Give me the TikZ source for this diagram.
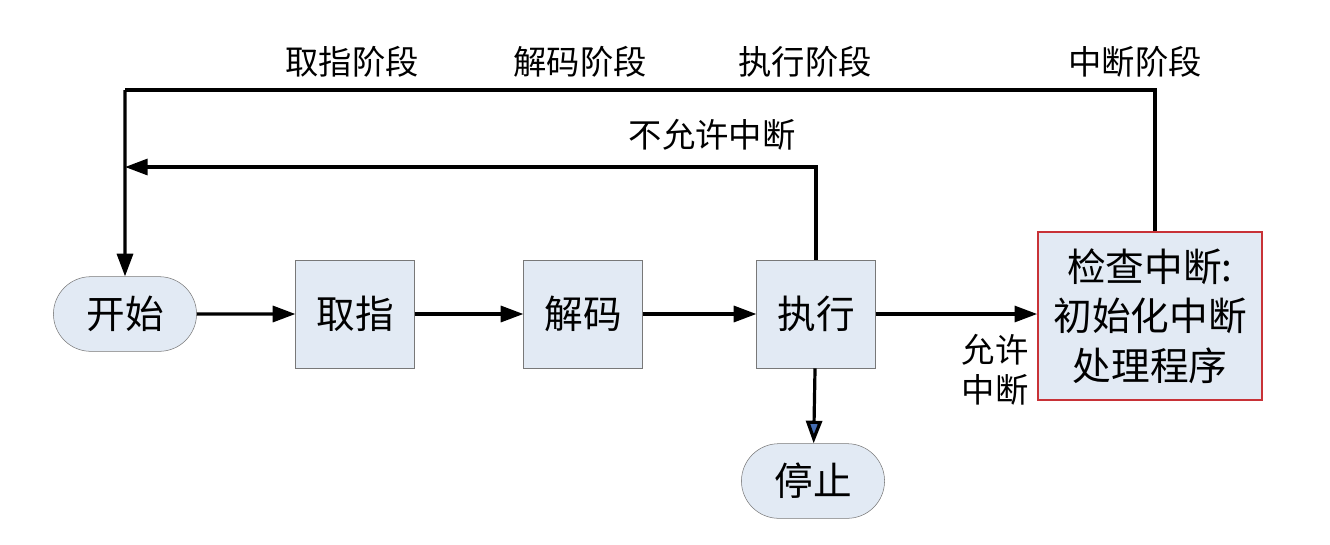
\documentclass[tikz,border=0pt]{standalone}
\usepackage{fontspec}
\setmainfont{Noto Sans CJK SC}
\usetikzlibrary{arrows.meta, shapes.misc}

\definecolor{boxfill}{RGB}{226,234,244}
\definecolor{boxline}{RGB}{120,120,120}
\definecolor{intline}{RGB}{200,50,55}
\definecolor{stoptip}{RGB}{70,110,180}

\begin{document}
\begin{tikzpicture}[x=0.75pt, y=-0.75pt,
stage/.style={draw=boxline, fill=boxfill, minimum width=89pt, minimum height=81pt, font=\fontsize{29}{34}\selectfont},
terminal/.style={rounded rectangle, draw=boxline, fill=boxfill, minimum width=114pt, minimum height=56pt, font=\fontsize{29}{34}\selectfont},
flow/.style={line width=2.4pt, -{Triangle[length=17pt, width=12pt]}},
phase/.style={font=\fontsize{25}{30}\selectfont}]
\useasboundingbox (0,0) rectangle (1330,544);

%Stages
\node[terminal] (start) at (125,314) {开始};
\node[stage] (fetch) at (355,314) {取指};
\node[stage] (decode) at (583,314) {解码};
\node[stage] (exec) at (816,314) {执行};
\node[terminal] (stop) at (813,481) {停止};
%Interrupt
\node[stage, draw=intline, line width=1.2pt, minimum width=168pt, minimum height=126pt, align=center,
  font=\fontsize{29}{37}\selectfont] (intr) at (1150,316) {检查中断:\\初始化中断\\处理程序};

%Corners
\coordinate (topl) at (125,90);
\coordinate (topr) at (1155,90);
\coordinate (midl) at (125,167);
\coordinate (midr) at (816,167);

%Flow
\draw[flow] (start) -- (fetch);
\draw[flow] (fetch) -- (decode);
\draw[flow] (decode) -- (exec);
\draw[flow] (exec) -- (intr.west |- exec);
\draw[line width=2.4pt, -{Triangle[length=17pt, width=12pt, fill=stoptip]}] (exec) -- (stop);
\draw[line width=2.4pt] (intr.north -| topr) -- (topr) -- (topl);
\draw[flow] (topl) -- (start);
\draw[flow] (exec) -- (midr) -- (midl);

%Labels
\node[phase] (lfetch) at (352,62) {取指阶段};
\node[phase] (ldecode) at (580,62) {解码阶段};
\node[phase] (lexec) at (805,62) {执行阶段};
\node[phase] (lintr) at (1135,62) {中断阶段};
\node[phase] (lno) at (712,135) {不允许中断};
\node[phase, align=center] (lyes) at (995,370) {允许\\中断};
\end{tikzpicture}
\end{document}
